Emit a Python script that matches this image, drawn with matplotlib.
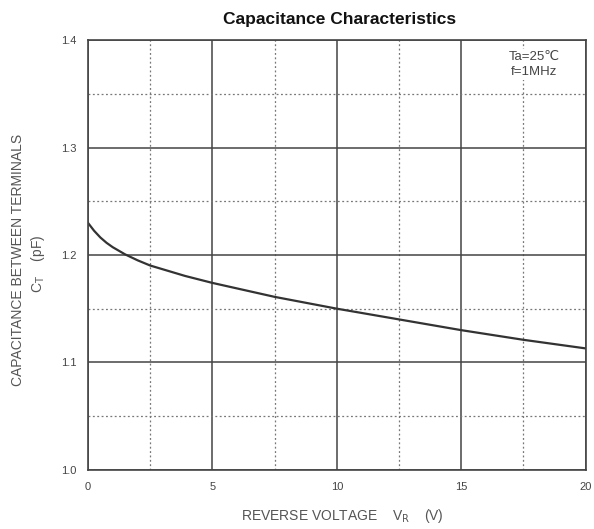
import numpy as np
import matplotlib
matplotlib.use('Agg')
import matplotlib.pyplot as plt

# values
vr = [0, 0.25, 0.5, 0.75, 1.0, 1.5, 2.0, 2.5, 3.9, 5, 7.5, 10, 12.5, 15, 17.5, 20]
ct = [1.230, 1.2225, 1.2163, 1.2113, 1.2072, 1.2005, 1.1950, 1.1902, 1.1805,
      1.1740, 1.1610, 1.150, 1.140, 1.130, 1.121, 1.113]

x_ticks = [0, 5, 10, 15, 20]
y_ticks = [1.0, 1.1, 1.2, 1.3, 1.4]

plt.rcParams['font.family'] = ['Liberation Sans', 'DejaVu Sans']

fig = plt.figure(figsize=(5.94, 5.29), dpi=100)
ax = fig.add_axes([0.148, 0.112, 0.838, 0.812])

ax.plot(vr, ct, color='#333333', lw=1.6)

ax.set_xlim(0, 20)
ax.set_ylim(1.0, 1.4)
ax.set_xticks(x_ticks)
ax.set_yticks(y_ticks)
ax.set_xticklabels([str(v) for v in x_ticks])
ax.set_yticklabels(['%.1f' % v for v in y_ticks])
ax.set_xticks(np.arange(2.5, 20, 5), minor=True)
ax.set_yticks(np.arange(1.05, 1.4, 0.1), minor=True)

ax.grid(which='major', color='#444444', lw=1.1, ls='-')
ax.grid(which='minor', color='#777777', lw=0.9, ls=(0, (1.5, 2)))
ax.tick_params(which='both', length=0, labelsize=8, labelcolor='#444444')
ax.tick_params(axis='x', pad=9)
ax.tick_params(axis='y', pad=8)
for s in ax.spines.values():
    s.set_color('#444444')
    s.set_linewidth(1.2)

fig.text(0.572, 0.964, 'Capacitance Characteristics', ha='center', va='center',
         fontsize=12.5, fontweight='bold', color='#111111')
ax.text(0.896, 0.975, 'Ta=25\u2103\nf=1MHz', transform=ax.transAxes, ha='center', va='top',
        fontsize=9.5, color='#444444', linespacing=1.3,
        bbox=dict(facecolor='white', edgecolor='none', pad=1.5))

fig.text(0.03, 0.508, 'CAPACITANCE BETWEEN TERMINALS', rotation=90, ha='center', va='center',
         fontsize=10, color='#555555')
fig.text(0.064, 0.502, r'C$_{\rm T}$    (pF)', rotation=90, ha='center', va='center',
         fontsize=10, color='#555555')
fig.text(0.576, 0.025, r'REVERSE VOLTAGE    V$_{\rm R}$    (V)', ha='center', va='center',
         fontsize=10, color='#555555')

fig.savefig('out.png', dpi=100)
